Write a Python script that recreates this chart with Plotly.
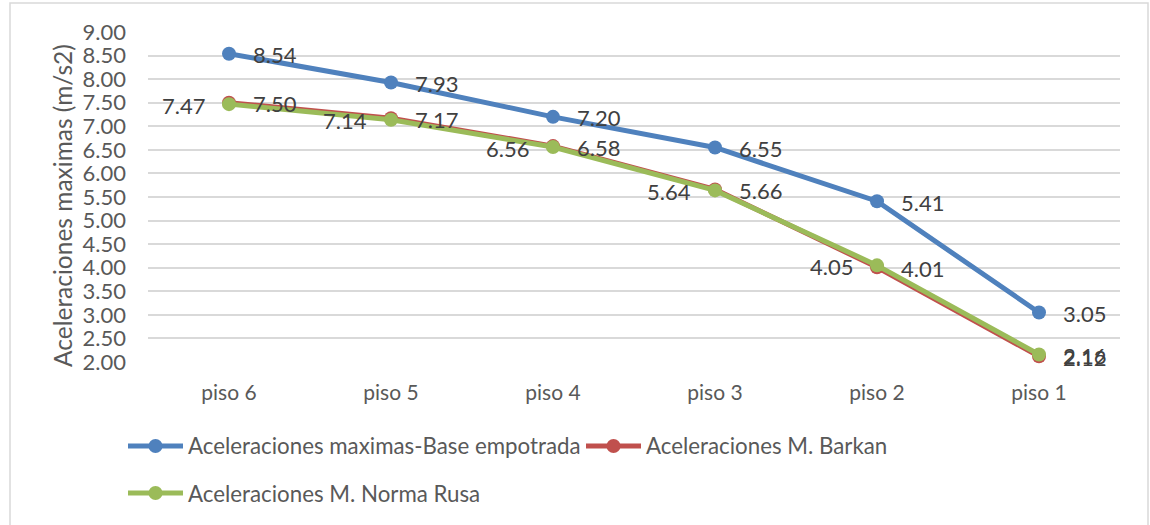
import plotly.graph_objects as go

# Floors (x categories) and peak accelerations (m/s2) per model
pisos = ["piso 6", "piso 5", "piso 4", "piso 3", "piso 2", "piso 1"]
base_empotrada = [8.54, 7.93, 7.20, 6.55, 5.41, 3.05]
barkan = [7.50, 7.17, 6.58, 5.66, 4.01, 2.12]
norma_rusa = [7.47, 7.14, 6.56, 5.64, 4.05, 2.16]

nombres = [
    "Aceleraciones maximas-Base empotrada",
    "Aceleraciones M. Barkan",
    "Aceleraciones M. Norma Rusa",
]
titulo_y = "Aceleraciones maximas (m/s2)"
colores = ["#4F81BD", "#C0504D", "#9BBB59"]
# label side for each point: +1 right of the marker, -1 left of it
lados = [
    [1] * 6,
    [1] * 6,
    [-1] * 5 + [1],
]

FONT = "Lato"
TXT = "#595959"
LBL = "#404040"

fig = go.Figure()
annotations = []
for serie, nombre, color, lado in zip([base_empotrada, barkan, norma_rusa], nombres, colores, lados):
    fig.add_trace(go.Scatter(
        x=pisos, y=serie, name=nombre,
        mode="lines+markers",
        line=dict(color=color, width=5),
        marker=dict(color=color, size=14),
        cliponaxis=False,
        showlegend=False,
    ))
    for p, v, s in zip(pisos, serie, lado):
        annotations.append(dict(
            x=p, y=v, xref="x", yref="y", showarrow=False,
            text=f"{v:.2f}", xanchor="left" if s > 0 else "right",
            yanchor="middle", xshift=22 * s, yshift=-1,
            font=dict(family=FONT, size=22, color=LBL),
        ))

# Plot area geometry (pixels) used for placing the custom legend and title
W, H = 1150, 525
L, R, T, B = 148, 30, 32, 163
pw, ph = W - L - R, H - T - B


def px_x(x):
    return (x - L) / pw


def px_y(y):
    return (H - B - y) / ph


shapes = []
legend_items = [(128, 446), (586, 446), (128, 493)]
for (lx, ly), nombre, color in zip(legend_items, nombres, colores):
    shapes.append(dict(type="line", xref="paper", yref="paper",
                       x0=px_x(lx), x1=px_x(lx + 55), y0=px_y(ly), y1=px_y(ly),
                       line=dict(color=color, width=5)))
    shapes.append(dict(type="circle", xref="paper", yref="paper",
                       xsizemode="pixel", ysizemode="pixel",
                       xanchor=px_x(lx + 27.5), yanchor=px_y(ly),
                       x0=-7, x1=7, y0=-7, y1=7,
                       fillcolor=color, line=dict(color=color, width=0)))
    annotations.append(dict(xref="paper", yref="paper", x=px_x(lx + 58), y=px_y(ly),
                            xanchor="left", yanchor="middle", showarrow=False,
                            text=nombre, font=dict(family=FONT, size=22.3, color=TXT)))

# Vertical axis title
annotations.append(dict(xref="paper", yref="paper", x=px_x(62), y=px_y(206),
                        xanchor="center", yanchor="middle", showarrow=False,
                        textangle=-90, text=titulo_y,
                        font=dict(family=FONT, size=24.5, color=TXT)))

# Chart frame
shapes.append(dict(type="rect", xref="paper", yref="paper", layer="below",
                   x0=px_x(10), x1=px_x(1148), y0=px_y(540), y1=px_y(3),
                   line=dict(color="#D9D9D9", width=1.5)))

fig.update_layout(
    width=W, height=H,
    margin=dict(l=L, r=R, t=T, b=B),
    paper_bgcolor="white", plot_bgcolor="white",
    font=dict(family=FONT, color=TXT),
    shapes=shapes,
    annotations=annotations,
    xaxis=dict(
        type="category", range=[-0.5, 5.5],
        showgrid=False, showline=False, zeroline=False,
        tickfont=dict(family=FONT, size=21, color=TXT),
        ticks="", ticklabelstandoff=16,
    ),
    yaxis=dict(
        range=[2, 9], dtick=0.5, tickformat=".2f",
        showgrid=True, gridcolor="#D9D9D9", gridwidth=1.5,
        zeroline=False, showline=False, ticks="",
        tickfont=dict(family=FONT, size=22, color=TXT),
        ticklabelstandoff=21,
    ),
)

fig.write_html("out.html")
